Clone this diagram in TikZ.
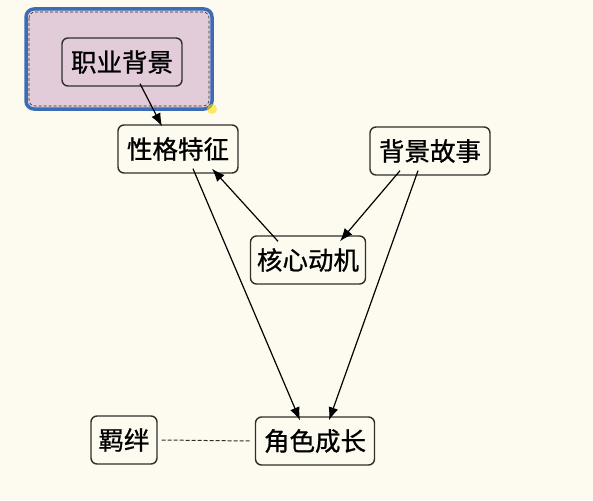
\documentclass[tikz,border=0pt]{standalone}
\usepackage{fontspec}
\setmainfont{Noto Sans CJK SC}
\newfontfamily\labelfont{Noto Sans CJK SC}[FakeBold=0.9]
\usetikzlibrary{arrows.meta}
\definecolor{paper}{HTML}{FDFBF0}
\definecolor{frameblue}{HTML}{3A6DB5}
\definecolor{framepink}{HTML}{E3CCDA}
\definecolor{edgegray}{HTML}{2E2E2A}
\tikzset{
  box/.style={draw=edgegray,line width=1.4pt,rounded corners=6pt,fill=paper,
    inner sep=0pt,minimum height=48pt,font=\labelfont\fontsize{25.5}{25.5}\selectfont},
  link/.style={-{Latex[length=13pt,width=10pt]},line width=1.2pt,black},
  tie/.style={line width=1pt,edgegray,dash pattern=on 4pt off 2pt}
}
\begin{document}
\begin{tikzpicture}[x=1pt,y=-1pt]
\fill[paper] (0,0) rectangle (593,500);
\useasboundingbox (0,0) rectangle (593,500);
% selected group
\draw[frameblue,line width=3.5pt,fill=framepink,rounded corners=8pt] (26,9) rectangle (212,109);
\draw[edgegray,line width=0.6pt,dash pattern=on 3pt off 2pt,rounded corners=6pt] (29,12) rectangle (209,106);
\fill[yellow!80!orange,opacity=0.6] (212,109) circle (5pt);
% nodes
\node[box,fill=framepink,minimum width=120pt] (job) at (122,62) {职业背景};
\node[box,minimum width=120pt] (trait) at (178,149) {性格特征};
\node[box,minimum width=120pt] (story) at (430,151) {背景故事};
\node[box,minimum width=115pt] (drive) at (308,260) {核心动机};
\node[box,minimum width=119pt] (grow) at (315,441) {角色成长};
\node[box,minimum width=66pt] (bond) at (124,440) {羁绊};
% links
\draw[link] ([xshift=18pt,yshift=3pt]job.south) -- ([xshift=-16pt,yshift=-2pt]trait.north);
\draw[link] ([xshift=-30pt,yshift=-6pt]drive.north) -- ([xshift=34pt,yshift=5pt]trait.south);
\draw[link] ([xshift=-30pt,yshift=5pt]story.south) -- ([xshift=32pt,yshift=-6pt]drive.north);
\draw[link] ([xshift=15pt,yshift=5pt]trait.south) -- ([xshift=-15pt,yshift=-4pt]grow.north);
\draw[link] ([xshift=-12pt,yshift=5pt]story.south) -- ([xshift=14pt,yshift=-4pt]grow.north);
\draw[tie] ([xshift=4pt]bond.east) -- ([xshift=-4pt]grow.west);
\end{tikzpicture}
\end{document}
